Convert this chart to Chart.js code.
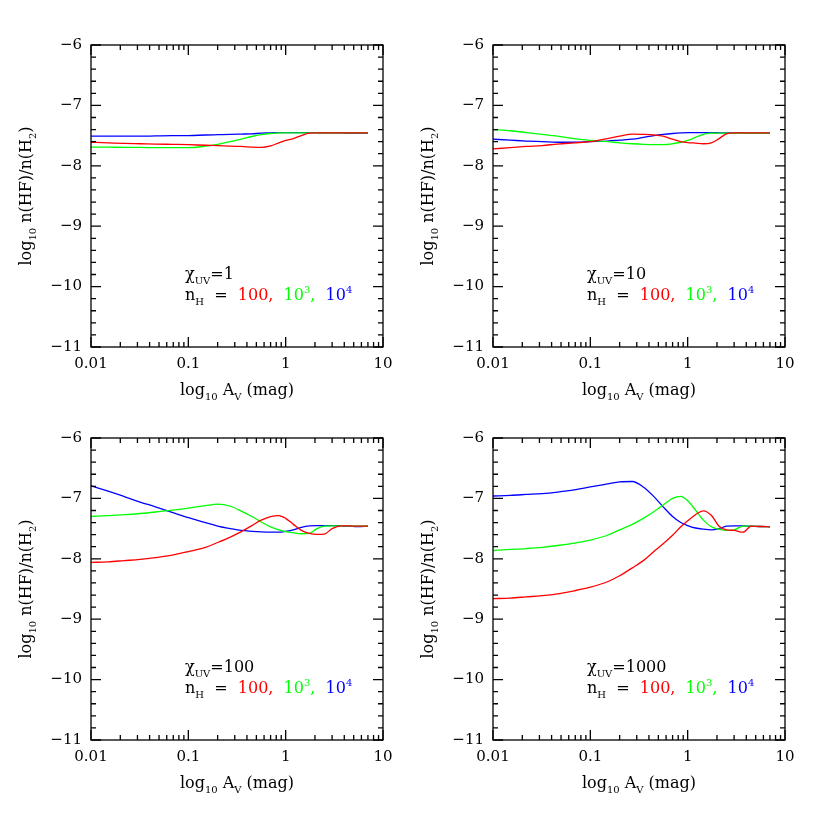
<!DOCTYPE html>
<html lang="en">
<head>
  <meta charset="UTF-8" />
  <title>HF / H2 abundance vs A_V</title>
  <script src="https://cdn.jsdelivr.net/npm/chart.js"></script>
  <style>
    body {
      margin: 0;
      background: #fff;
    }

    .page {
      position: relative;
      width: 830px;
      height: 830px;
      background: #fff;
    }

    .panel {
      position: absolute;
      width: 415px;
      height: 415px;
    }
  </style>
</head>
<body>
  <div class="page">
    <div class="panel" style="left:0;top:0"><canvas id="p1" width="415" height="415"></canvas></div>
    <div class="panel" style="left:402px;top:0"><canvas id="p2" width="415" height="415"></canvas></div>
    <div class="panel" style="left:0;top:393px"><canvas id="p3" width="415" height="415"></canvas></div>
    <div class="panel" style="left:402px;top:393px"><canvas id="p4" width="415" height="415"></canvas></div>
  </div>

  <script>
    // A_V grid (mag) shared by all curves
    const av = [0.01, 0.015, 0.022, 0.032, 0.046, 0.068, 0.1, 0.15, 0.2, 0.27, 0.35, 0.45, 0.56,
                0.7, 0.85, 1.0, 1.2, 1.45, 1.75, 2.1, 2.5, 3.0, 3.7, 4.5, 5.5, 7.0];

    const chiValues = ['1', '10', '100', '1000'];

    // log10 n(HF)/n(H2), one array per (chi, n_H)
    const chi1_n100 = [-7.61, -7.62, -7.63, -7.635, -7.64, -7.645, -7.65, -7.66, -7.665, -7.675, -7.68, -7.69, -7.695,
                       -7.67, -7.62, -7.58, -7.55, -7.50, -7.46, -7.455, -7.455, -7.455, -7.455, -7.455, -7.455, -7.455];
    const chi1_n1e3 = [-7.69, -7.69, -7.695, -7.695, -7.70, -7.70, -7.70, -7.675, -7.645, -7.60, -7.56, -7.515, -7.485,
                       -7.465, -7.455, -7.455, -7.455, -7.455, -7.455, -7.455, -7.455, -7.455, -7.455, -7.455, -7.455, -7.455];
    const chi1_n1e4 = [-7.51, -7.51, -7.51, -7.51, -7.505, -7.50, -7.50, -7.49, -7.485, -7.48, -7.475, -7.47, -7.46,
                       -7.455, -7.45, -7.45, -7.45, -7.45, -7.45, -7.45, -7.455, -7.455, -7.455, -7.46, -7.46, -7.46];

    const chi10_n100 = [-7.72, -7.70, -7.68, -7.665, -7.64, -7.62, -7.60, -7.55, -7.51, -7.475, -7.48, -7.49, -7.51,
                        -7.56, -7.60, -7.615, -7.625, -7.635, -7.62, -7.55, -7.47, -7.455, -7.455, -7.455, -7.455, -7.455];
    const chi10_n1e3 = [-7.40, -7.42, -7.45, -7.48, -7.51, -7.55, -7.58, -7.60, -7.62, -7.635, -7.645, -7.65, -7.65,
                        -7.635, -7.61, -7.58, -7.53, -7.48, -7.46, -7.46, -7.46, -7.46, -7.46, -7.46, -7.46, -7.46];
    const chi10_n1e4 = [-7.56, -7.575, -7.59, -7.60, -7.61, -7.61, -7.60, -7.59, -7.575, -7.56, -7.53, -7.50, -7.48,
                        -7.465, -7.455, -7.45, -7.45, -7.45, -7.45, -7.455, -7.455, -7.455, -7.455, -7.46, -7.46, -7.46];

    const chi100_n100 = [-8.06, -8.05, -8.03, -8.01, -7.98, -7.94, -7.88, -7.81, -7.73, -7.64, -7.55, -7.45, -7.36,
                         -7.30, -7.285, -7.33, -7.43, -7.53, -7.58, -7.595, -7.59, -7.50, -7.455, -7.455, -7.46, -7.46];
    const chi100_n1e3 = [-7.30, -7.285, -7.27, -7.25, -7.225, -7.195, -7.16, -7.12, -7.095, -7.13, -7.21, -7.30, -7.39,
                         -7.47, -7.52, -7.55, -7.57, -7.585, -7.58, -7.50, -7.46, -7.455, -7.455, -7.455, -7.46, -7.46];
    const chi100_n1e4 = [-6.79, -6.88, -6.97, -7.06, -7.14, -7.23, -7.32, -7.40, -7.46, -7.50, -7.53, -7.545, -7.555,
                         -7.56, -7.56, -7.545, -7.52, -7.48, -7.455, -7.45, -7.45, -7.45, -7.455, -7.46, -7.465, -7.46];

    const chi1000_n100 = [-8.66, -8.65, -8.63, -8.61, -8.58, -8.53, -8.47, -8.38, -8.28, -8.15, -8.03, -7.88, -7.75,
                          -7.61, -7.47, -7.37, -7.27, -7.205, -7.28, -7.46, -7.52, -7.53, -7.56, -7.46, -7.465, -7.47];
    const chi1000_n1e3 = [-7.86, -7.845, -7.83, -7.81, -7.78, -7.74, -7.69, -7.61, -7.52, -7.43, -7.33, -7.22, -7.11,
                          -7.00, -6.965, -7.04, -7.19, -7.36, -7.47, -7.51, -7.53, -7.52, -7.46, -7.46, -7.465, -7.47];
    const chi1000_n1e4 = [-6.96, -6.95, -6.935, -6.92, -6.895, -6.86, -6.81, -6.76, -6.725, -6.72, -6.81, -6.97, -7.14,
                          -7.30, -7.40, -7.45, -7.49, -7.51, -7.52, -7.50, -7.46, -7.455, -7.455, -7.46, -7.465, -7.47];

    const panelSeries = [
      [chi1_n100, chi1_n1e3, chi1_n1e4],
      [chi10_n100, chi10_n1e3, chi10_n1e4],
      [chi100_n100, chi100_n1e3, chi100_n1e4],
      [chi1000_n100, chi1000_n1e3, chi1000_n1e4]
    ];

    const xTicks = [0.01, 0.1, 1, 10];
    const xTickLabels = ['0.01', '0.1', '1', '10'];
    const yTicks = [-11, -10, -9, -8, -7, -6];
    const yTickLabels = ['\u221211', '\u221210', '\u22129', '\u22128', '\u22127', '\u22126'];

    const lineColors = ['#ff0000', '#00ff00', '#0000ff'];
    const FONT = '"DejaVu Serif", "Liberation Serif", serif';

    // draws a run of text pieces with optional sub/superscripts, returns width
    function richText(ctx, segs, x, y, size, dryRun) {
      let cx = x;
      for (const s of segs) {
        const small = s.sub || s.sup;
        const fs = small ? Math.round(size * 0.62) : size;
        ctx.font = fs + 'px ' + FONT;
        const dy = s.sub ? size * 0.3 : (s.sup ? -size * 0.42 : 0);
        if (!dryRun) {
          ctx.fillStyle = s.color || '#000';
          ctx.fillText(s.t, cx, y + dy);
        }
        cx += ctx.measureText(s.t).width;
      }
      return cx - x;
    }

    const decor = {
      id: 'decor',
      afterDraw(chart, args, opts) {
        const ctx = chart.ctx;
        const { left, right, top, bottom } = chart.chartArea;
        const xs = chart.scales.x, ys = chart.scales.y;
        ctx.save();
        ctx.strokeStyle = '#000';
        ctx.lineWidth = 1.3;
        ctx.strokeRect(left, top, right - left, bottom - top);

        // inward tick marks on all four sides
        ctx.beginPath();
        for (let i = 0; i <= 25; i++) {
          const v = -11 + i * 0.2;
          const py = ys.getPixelForValue(v);
          const len = i % 5 === 0 ? 10 : 5;
          ctx.moveTo(left, py); ctx.lineTo(left + len, py);
          ctx.moveTo(right, py); ctx.lineTo(right - len, py);
        }
        for (const d of [0.01, 0.1, 1]) {
          for (let k = 1; k <= 10; k++) {
            const px = xs.getPixelForValue(k * d);
            const len = (k === 1 || k === 10) ? 10 : 5;
            ctx.moveTo(px, bottom); ctx.lineTo(px, bottom - len);
            ctx.moveTo(px, top); ctx.lineTo(px, top + len);
          }
        }
        ctx.stroke();

        ctx.textBaseline = 'alphabetic';
        ctx.textAlign = 'left';
        const size = 16;

        // x axis title
        const xTitle = [{ t: 'log' }, { t: '10', sub: true }, { t: ' A' }, { t: 'V', sub: true }, { t: ' (mag)' }];
        const xw = richText(ctx, xTitle, 0, 0, size, true);
        richText(ctx, xTitle, (left + right) / 2 - xw / 2, bottom + 48, size);

        // y axis title
        const yTitle = [{ t: 'log' }, { t: '10', sub: true }, { t: ' n(HF)/n(H' }, { t: '2', sub: true }, { t: ')' }];
        const yw = richText(ctx, yTitle, 0, 0, size, true);
        ctx.save();
        ctx.translate(left - 60, (top + bottom) / 2);
        ctx.rotate(-Math.PI / 2);
        richText(ctx, yTitle, -yw / 2, 0, size);
        ctx.restore();

        // annotation
        const ax = left + 94, ay = top + 234;
        richText(ctx, [{ t: '\u03c7' }, { t: 'UV', sub: true }, { t: '=' + opts.chi }], ax, ay, size);
        richText(ctx, [
          { t: 'n' }, { t: 'H', sub: true }, { t: '  =  ' },
          { t: '100,', color: lineColors[0] }, { t: '  ' },
          { t: '10', color: lineColors[1] }, { t: '3', sup: true, color: lineColors[1] }, { t: ',', color: lineColors[1] }, { t: '  ' },
          { t: '10', color: lineColors[2] }, { t: '4', sup: true, color: lineColors[2] }
        ], ax, ay + 21, size);
        ctx.restore();
      }
    };

    ['p1', 'p2', 'p3', 'p4'].forEach((id, p) => {
      new Chart(document.getElementById(id), {
        type: 'line',
        data: {
          datasets: panelSeries[p].map((vals, i) => ({
            data: av.map((x, j) => ({ x: x, y: vals[j] })),
            borderColor: lineColors[i],
            borderWidth: 1.3,
            pointRadius: 0,
            fill: false,
            cubicInterpolationMode: 'monotone'
          }))
        },
        options: {
          responsive: false,
          animation: false,
          devicePixelRatio: 1,
          layout: { padding: { left: 40, top: 45, right: 32, bottom: 20 } },
          plugins: {
            legend: { display: false },
            tooltip: { enabled: false },
            decor: { chi: chiValues[p] }
          },
          scales: {
            x: {
              type: 'logarithmic',
              min: 0.01,
              max: 10,
              afterBuildTicks: s => { s.ticks = xTicks.map(v => ({ value: v })); },
              afterFit: s => { s.height = 48; },
              ticks: {
                autoSkip: false,
                maxRotation: 0,
                minRotation: 0,
                padding: 8,
                color: '#000',
                font: { family: FONT, size: 15 },
                callback: v => xTickLabels[xTicks.indexOf(v)]
              },
              grid: { display: false, drawTicks: false },
              border: { display: false }
            },
            y: {
              type: 'linear',
              min: -11,
              max: -6,
              afterBuildTicks: s => { s.ticks = yTicks.map(v => ({ value: v })); },
              afterFit: s => { s.width = 51; },
              ticks: {
                padding: 9,
                color: '#000',
                font: { family: FONT, size: 15 },
                callback: v => yTickLabels[yTicks.indexOf(v)]
              },
              grid: { display: false, drawTicks: false },
              border: { display: false }
            }
          }
        },
        plugins: [decor]
      });
    });
  </script>
</body>
</html>
